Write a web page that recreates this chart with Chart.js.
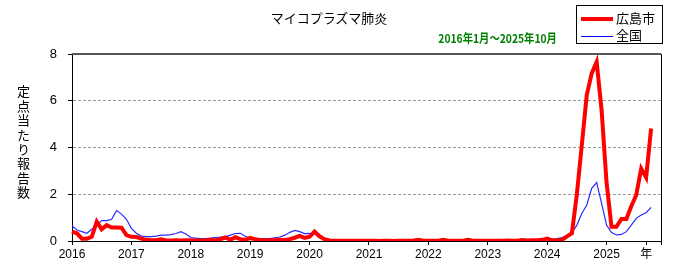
<!DOCTYPE html>
<html>
<head>
<meta charset="utf-8">
<script src="https://cdn.jsdelivr.net/npm/chart.js@4"></script>
<style>
  body { margin: 0; background: #fff; }
  #wrap { position: relative; width: 700px; height: 278px; font-family: "Noto Sans CJK JP", sans-serif; }
  #title { position: absolute; left: 0; top: 8px; width: 658px; text-align: center; font-size: 13px; color: #000; }
  #sub { position: absolute; right: 143px; top: 29px; font-size: 12px; font-weight: bold; color: #008000; transform: scaleX(0.86); transform-origin: right center; white-space: nowrap; }
  #ytitle { position: absolute; left: 14px; top: 85px; writing-mode: vertical-rl; text-orientation: upright; font-size: 13px; letter-spacing: 1.4px; color: #000; }
  #legend { position: absolute; left: 576px; top: 5px; width: 85px; height: 37px; border: 1px solid #000; background: #fff; font-size: 13px; }
  .row { position: absolute; left: 4px; height: 16px; line-height: 16px; white-space: nowrap; }
  .sw { display: inline-block; width: 32px; vertical-align: middle; margin-right: 3px; }
</style>
</head>
<body>
<div id="wrap">
  <canvas id="myChart" width="700" height="278"></canvas>
  <div id="title">マイコプラズマ肺炎</div>
  <div id="sub">2016年1月～2025年10月</div>
  <div id="ytitle">定点当たり報告数</div>
  <div id="legend">
    <div class="row" style="top:4px"><span class="sw" style="border-top:4px solid #ff0000"></span>広島市</div>
    <div class="row" style="top:21px"><span class="sw" style="border-top:1px solid #0000ff"></span>全国</div>
  </div>
</div>
<script>
var years = ['2016', '2017', '2018', '2019', '2020', '2021', '2022', '2023', '2024', '2025'];

// 広島市 monthly, 2016-01 .. 2025-10
var hiroshima = [
    0.40, 0.33, 0.10, 0.10, 0.18, 0.83, 0.50, 0.68, 0.58, 0.58, 0.57, 0.25,
    0.18, 0.17, 0.10, 0.05, 0.03, 0.03, 0.07, 0.02, 0.02, 0.03, 0.02, 0.03,
    0.03, 0.02, 0.02, 0.03, 0.05, 0.03, 0.08, 0.15, 0.05, 0.16, 0.08, 0.05,
    0.13, 0.08, 0.04, 0.03, 0.03, 0.03, 0.05, 0.04, 0.08, 0.14, 0.22, 0.13,
    0.18, 0.40, 0.20, 0.08, 0.02, 0.01, 0.01, 0.01, 0.01, 0.01, 0.01, 0.01,
    0.01, 0.01, 0.00, 0.01, 0.01, 0.00, 0.01, 0.01, 0.01, 0.02, 0.05, 0.01,
    0.01, 0.01, 0.01, 0.05, 0.01, 0.01, 0.01, 0.01, 0.05, 0.01, 0.01, 0.01,
    0.01, 0.01, 0.01, 0.01, 0.02, 0.01, 0.01, 0.04, 0.02, 0.03, 0.03, 0.05,
    0.10, 0.03, 0.03, 0.05, 0.20, 0.33, 2.00, 4.10, 6.24, 7.17, 7.66, 5.60,
    2.50, 0.61, 0.61, 0.94, 0.94, 1.49, 1.97, 3.10, 2.72, 4.81
];

// 全国 monthly, 2016-01 .. 2025-10
var zenkoku = [
    0.65, 0.47, 0.40, 0.33, 0.50, 0.68, 0.87, 0.87, 0.93, 1.30, 1.15, 0.93,
    0.54, 0.33, 0.21, 0.19, 0.19, 0.21, 0.25, 0.25, 0.27, 0.32, 0.40, 0.30,
    0.15, 0.12, 0.10, 0.10, 0.12, 0.15, 0.17, 0.18, 0.25, 0.32, 0.33, 0.20,
    0.12, 0.10, 0.10, 0.10, 0.10, 0.14, 0.17, 0.25, 0.37, 0.45, 0.40, 0.32,
    0.33, 0.30, 0.20, 0.10, 0.04, 0.03, 0.03, 0.03, 0.03, 0.03, 0.03, 0.03,
    0.04, 0.03, 0.02, 0.02, 0.02, 0.02, 0.02, 0.02, 0.02, 0.02, 0.02, 0.02,
    0.02, 0.02, 0.02, 0.02, 0.02, 0.02, 0.02, 0.02, 0.02, 0.02, 0.02, 0.02,
    0.01, 0.01, 0.02, 0.02, 0.05, 0.04, 0.03, 0.03, 0.04, 0.05, 0.06, 0.07,
    0.08, 0.05, 0.10, 0.15, 0.22, 0.35, 0.68, 1.18, 1.54, 2.25, 2.50, 1.61,
    0.68, 0.36, 0.26, 0.28, 0.40, 0.68, 0.97, 1.11, 1.21, 1.44
];

var yTicks = [0, 2, 4, 6, 8];

// one slot per month, 2016-01 .. 2025-12
var labels = [];
years.forEach(function (y) {
    for (var m = 1; m <= 12; m++) labels.push(y + '-' + m);
});
var yearMark = 116; // where the "年" label sits

var frame = {
    id: 'frame',
    afterDraw: function (chart) {
        var a = chart.chartArea, c = chart.ctx;
        c.save();
        c.strokeStyle = '#555';
        c.lineWidth = 2;
        c.beginPath();
        c.moveTo(a.left, a.top);
        c.lineTo(a.right, a.top);
        c.stroke();
        c.strokeStyle = '#000';
        c.lineWidth = 1;
        c.beginPath();
        c.moveTo(a.right + 0.5, a.top);
        c.lineTo(a.right + 0.5, a.bottom + 4);
        c.stroke();
        c.restore();
    }
};

var ctx = document.getElementById('myChart').getContext('2d');

var myChart = new Chart(ctx, {
    type: 'line',
    data: {
        labels: labels,
        datasets: [{
            label: '広島市',
            data: hiroshima,
            borderColor: '#ff0000',
            borderWidth: 4,
            pointRadius: 0,
            tension: 0
        }, {
            label: '全国',
            data: zenkoku,
            borderColor: '#2a2aff',
            borderWidth: 1.2,
            pointRadius: 0,
            tension: 0
        }]
    },
    options: {
        responsive: false,
        animation: false,
        events: [],
        layout: { padding: { top: 54, right: 39, left: 0, bottom: 0 } },
        plugins: {
            legend: { display: false },
            title: { display: false },
            tooltip: { enabled: false }
        },
        scales: {
            x: {
                offset: false,
                afterFit: function (s) { s.height = 37; },
                border: { color: '#000', width: 1 },
                grid: {
                    drawOnChartArea: false,
                    tickLength: 4,
                    tickColor: function (c) { return c.index === yearMark ? 'rgba(0,0,0,0)' : '#000'; }
                },
                ticks: {
                    autoSkip: false,
                    maxRotation: 0,
                    padding: 2,
                    color: '#000',
                    font: { family: 'Liberation Sans, "Noto Sans CJK JP"', size: 12 },
                    callback: function (v, i) {
                        if (i % 12 === 0) return years[i / 12];
                        if (i === yearMark) return '年';
                        if (i === labels.length - 1) return '';
                        return null;
                    }
                }
            },
            y: {
                min: 0,
                max: 8,
                afterFit: function (s) { s.width = 72; },
                afterBuildTicks: function (s) { s.ticks = yTicks.map(function (v) { return { value: v }; }); },
                border: { color: '#000', width: 1, dash: [3, 2] },
                grid: {
                    color: function (c) { return (c.tick && (c.tick.value === 0 || c.tick.value === 8)) ? 'rgba(0,0,0,0)' : '#999'; },
                    tickColor: '#000',
                    tickLength: 4
                },
                ticks: {
                    padding: 11,
                    color: '#000',
                    font: { family: 'Liberation Sans', size: 13 }
                }
            }
        }
    },
    plugins: [frame]
});
</script>
</body>
</html>
